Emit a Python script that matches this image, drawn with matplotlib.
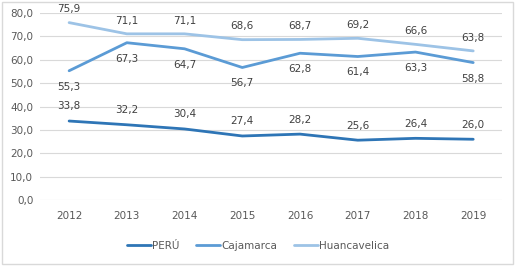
import matplotlib.pyplot as plt
from matplotlib.patches import Rectangle

# data
years = ["2012", "2013", "2014", "2015", "2016", "2017", "2018", "2019"]
peru = [33.8, 32.2, 30.4, 27.4, 28.2, 25.6, 26.4, 26.0]
cajamarca = [55.3, 67.3, 64.7, 56.7, 62.8, 61.4, 63.3, 58.8]
huancavelica = [75.9, 71.1, 71.1, 68.6, 68.7, 69.2, 66.6, 63.8]

def fmt(v):
    return f"{v:.1f}".replace(".", ",")

fig = plt.figure(figsize=(5.16, 2.66), dpi=100)
ax = fig.add_axes([0.078, 0.248, 0.895, 0.703])

x = range(len(years))
series = [
    ("PERÚ", peru, "#2E75B6", 10.5),
    ("Cajamarca", cajamarca, "#5B9BD5", -11.5),
    ("Huancavelica", huancavelica, "#9DC3E6", 9.5),
]
for name, vals, col, off in series:
    ax.plot(x, vals, color=col, lw=2.0, label=name, solid_capstyle="round")
    for i, v in enumerate(vals):
        ax.annotate(fmt(v), (i, v), xytext=(0, off), textcoords="offset points",
                    ha="center", va="center", fontsize=7.5, color="#404040")

ax.set_xlim(-0.5, len(years) - 0.5)
ax.set_ylim(0, 80)
ax.set_yticks(range(0, 81, 10))
ax.set_yticklabels([fmt(t) for t in range(0, 81, 10)])
ax.set_xticks(list(x))
ax.set_xticklabels(years)
ax.tick_params(length=0, labelsize=7.5, labelcolor="#595959", pad=8)
ax.tick_params(axis="y", pad=5)
ax.grid(axis="y", color="#D9D9D9", lw=0.8)
ax.set_axisbelow(True)
for s in ax.spines.values():
    s.set_visible(False)

fig.legend(loc="center", bbox_to_anchor=(0.5, 0.075), ncol=3, frameon=False,
           fontsize=7.5, handlelength=2.3, handletextpad=0.1, columnspacing=1.6,
           labelcolor="#595959")

fig.patches.append(Rectangle((0.003, 0.006), 0.992, 0.988, transform=fig.transFigure,
                             fill=False, edgecolor="#D9D9D9", lw=1))

fig.savefig("out.png", dpi=100)
